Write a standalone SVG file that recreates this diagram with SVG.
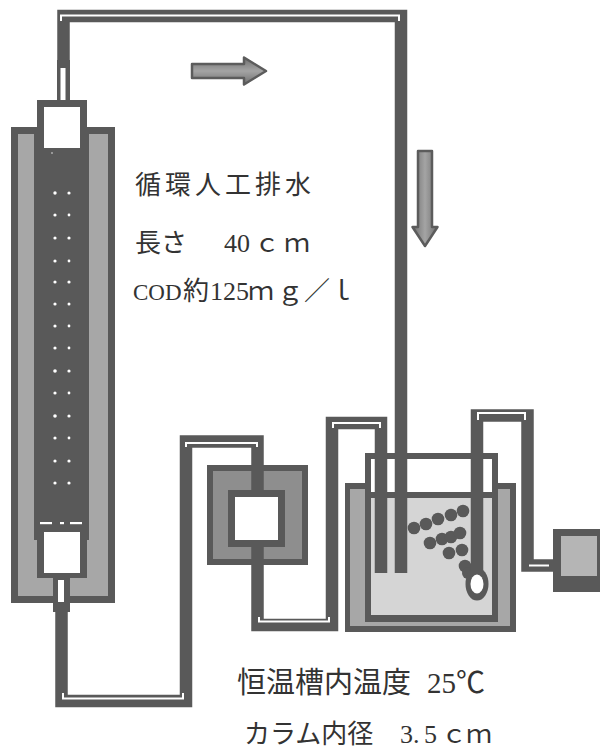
<svg xmlns="http://www.w3.org/2000/svg" width="600" height="749" viewBox="0 0 600 749">
  <defs>
    <linearGradient id="arrowH" x1="0" y1="0" x2="0" y2="1">
      <stop offset="0" stop-color="#6e6e6e"/>
      <stop offset="0.5" stop-color="#a4a4a4"/>
      <stop offset="1" stop-color="#6e6e6e"/>
    </linearGradient>
    <linearGradient id="arrowV" x1="0" y1="0" x2="1" y2="0">
      <stop offset="0" stop-color="#6e6e6e"/>
      <stop offset="0.5" stop-color="#a4a4a4"/>
      <stop offset="1" stop-color="#6e6e6e"/>
    </linearGradient>
    <style>
      .dk { fill: #595959; }
      .lt { fill: #a7a7a7; }
      .md { fill: #8e8e8e; }
      .wt { fill: #ffffff; }
      .water { fill: #d5d5d5; }
      .pipe { fill: none; stroke: #595959; stroke-width: 12.5; stroke-linejoin: miter; stroke-linecap: butt; }
      .hl { fill: none; stroke: #ffffff; stroke-width: 2; stroke-linejoin: miter; }
      .dot { fill: #ffffff; }
      .arrow { stroke: #5c5c5c; stroke-width: 2.5; stroke-linejoin: round; }
      .bead { fill: #595959; }
      .jp { font-family: "Noto Sans CJK JP", "Liberation Serif", serif; fill: #333333; font-weight: 400; }
      .lat { font-family: "Liberation Serif", "Noto Sans CJK JP", serif; }
    </style>
  </defs>

  <rect width="600" height="749" fill="#ffffff"/>

  <!-- packed column -->
  <g id="column">
    <rect class="dk" x="11" y="127" width="104" height="476"/>
    <rect class="lt" x="18" y="134" width="90" height="462"/>
    <rect class="dk" x="34" y="127" width="55" height="413"/>
    <rect class="dk" x="37" y="100" width="50" height="40"/>
    <rect class="wt" x="44" y="107" width="36" height="41"/>
    <rect class="dk" x="37" y="525" width="50" height="53"/>
    <rect class="wt" x="44" y="532" width="36" height="41"/>
    <!-- support plate slits -->
    <rect class="wt" x="40" y="522" width="12" height="2.2"/>
    <rect class="wt" x="60" y="522" width="4" height="2.2"/>
    <rect class="wt" x="70" y="522" width="12" height="2.2"/>
    <!-- top and bottom fittings -->
    <rect class="dk" x="57" y="60" width="13" height="41"/>
    <rect class="wt" x="60.5" y="68" width="5" height="32"/>
    <rect class="dk" x="53" y="577" width="17" height="35"/>
    <rect class="wt" x="58" y="580" width="6" height="22"/>
    <!-- packing -->
    <g class="dot">
      <circle cx="52" cy="153" r="1" opacity="0.5"/>
      <circle cx="55" cy="193" r="1.7"/><circle cx="69" cy="193" r="1.6"/>
      <circle cx="55" cy="215" r="1.6"/><circle cx="69" cy="215" r="1.4"/>
      <circle cx="55" cy="238" r="1.6"/><circle cx="69" cy="238" r="1.6"/>
      <circle cx="55" cy="261" r="1.6"/><circle cx="69" cy="261" r="1.4"/>
      <circle cx="55" cy="282" r="1.6"/><circle cx="69" cy="282" r="1.6"/>
      <circle cx="55" cy="304" r="1.6"/><circle cx="69" cy="304" r="1.5"/>
      <circle cx="55" cy="326" r="1.6"/><circle cx="69" cy="326" r="1.4"/>
      <circle cx="55" cy="348" r="1.6"/><circle cx="69" cy="348" r="1.4"/>
      <circle cx="55" cy="371" r="1.8"/><circle cx="69" cy="371" r="1.6"/>
      <circle cx="55" cy="393" r="1.6"/><circle cx="69" cy="393" r="1.4"/>
      <circle cx="55" cy="416" r="1.8"/><circle cx="69" cy="416" r="1.6"/>
      <circle cx="55" cy="438" r="1.6"/><circle cx="69" cy="438" r="1.4"/>
      <circle cx="55" cy="461" r="1.6"/><circle cx="69" cy="461" r="1.6"/>
      <circle cx="55" cy="483" r="1.6"/><circle cx="69" cy="483" r="1.6"/>
    </g>
  </g>

  <!-- circulation pump -->
  <g id="pump">
    <rect class="dk" x="207" y="465" width="101" height="100"/>
    <rect class="md" x="213" y="471" width="89" height="88"/>
    <rect class="dk" x="228" y="490" width="57" height="57"/>
    <rect class="wt" x="235" y="497" width="43" height="43"/>
  </g>

  <!-- thermostatic bath with reservoir -->
  <g id="bath">
    <rect class="dk" x="345" y="483" width="171" height="149"/>
    <rect class="lt" x="350" y="489" width="160" height="137"/>
    <rect class="dk" x="365" y="453" width="133" height="169"/>
    <rect class="wt" x="371" y="459" width="121" height="33"/>
    <rect class="water" x="371" y="498" width="121" height="117"/>
    <g class="bead">
      <circle cx="414" cy="528" r="6.3"/><circle cx="426" cy="524" r="6.3"/>
      <circle cx="438" cy="519" r="6.3"/><circle cx="451" cy="515" r="6.3"/>
      <circle cx="463" cy="511" r="6.3"/>
      <circle cx="430" cy="543" r="6.3"/><circle cx="442" cy="539" r="6.3"/>
      <circle cx="451" cy="537" r="6.3"/><circle cx="460" cy="533" r="6.3"/>
      <circle cx="449" cy="553" r="6.3"/><circle cx="462" cy="550" r="6.3"/>
      <circle cx="465" cy="566" r="6.3"/><circle cx="468" cy="573" r="6"/>
    </g>
    <ellipse class="dk" cx="477" cy="584" rx="11.5" ry="16.5"/>
    <ellipse class="wt" cx="477" cy="584" rx="6.5" ry="9.5"/>
  </g>

  <!-- air pump -->
  <g id="aerator">
    <rect class="dk" x="553" y="529" width="50" height="63"/>
    <rect x="561" y="536" width="36" height="40" fill="#b5b5b5"/>
  </g>

  <!-- tubing -->
  <g id="connectors">
    <path class="pipe" d="M63.5,62 V16 H401 V573"/>
    <path class="pipe" d="M61.5,610 V701 H186 V441.5 H257.5 V491"/>
    <path class="pipe" d="M257.5,546 V625 H332 V423 H381 V573"/>
    <path class="pipe" d="M477,570 V415.5 H527.5 V565.5 H555"/>
    <path class="hl" d="M61,21 V15.5 H399 V21"/>
    <path class="hl" d="M63,693 V698.5 H183 V693"/>
    <path class="hl" d="M186,447 V443 H257 V447"/>
    <path class="hl" d="M259,617 V621.5 H329 V617"/>
    <path class="hl" d="M333,428 V423 H380 V428"/>
    <path class="hl" d="M478,420 V413 H525 V420"/>
    <path class="hl" d="M529,565.5 H549"/>
  </g>

  <!-- flow direction -->
  <g id="flow-arrows">
    <path class="arrow" fill="url(#arrowH)" d="M192,64 H244 V57.5 L266,71 L244,84.5 V78 H192 Z"/>
    <path class="arrow" fill="url(#arrowV)" d="M418,151 H432 V227 H437.5 L425,246 L412.5,227 H418 Z"/>
  </g>

  <!-- labels -->
  <g id="labels" class="jp">
    <text x="135" y="194" font-size="26" letter-spacing="4">循環人工排水</text>
    <text y="252" font-size="26"><tspan x="135">長さ</tspan><tspan class="lat" x="224">40</tspan><tspan x="254">ｃ</tspan><tspan x="284">ｍ</tspan></text>
    <text y="300" font-size="26"><tspan class="lat" x="133" font-size="23">COD</tspan><tspan x="183">約</tspan><tspan class="lat" x="210">125</tspan><tspan x="248">ｍ</tspan><tspan x="277">ｇ</tspan><tspan x="304">／</tspan><tspan x="329">ｌ</tspan></text>
    <text x="237" y="693" font-size="29">恒温槽内温度<tspan class="lat" x="427">25℃</tspan></text>
    <text y="743" font-size="26"><tspan x="244">カラム内径</tspan><tspan class="lat" x="400">3.</tspan><tspan class="lat" x="424">5</tspan><tspan x="441">ｃ</tspan><tspan x="466">ｍ</tspan></text>
  </g>
</svg>
